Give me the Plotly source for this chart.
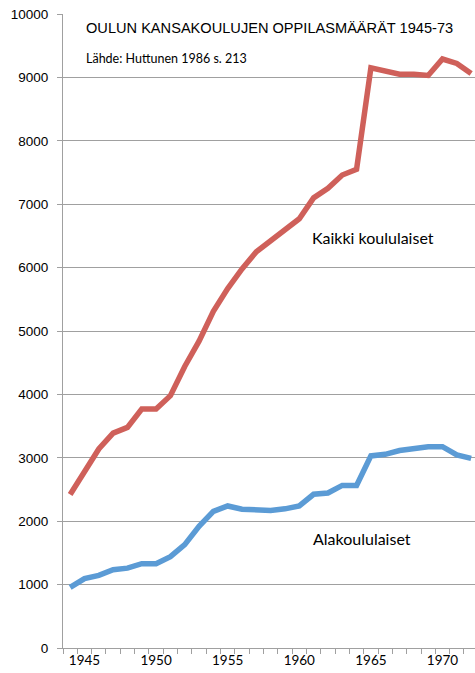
import plotly.graph_objects as go

years = list(range(1944, 1973))
kaikki = [2420, 2790, 3140, 3390, 3480, 3770, 3770, 3980, 4440, 4840, 5310, 5670, 5980,
          6250, 6420, 6600, 6770, 7100, 7250, 7460, 7550, 9150, 9100, 9050, 9050, 9030,
          9290, 9220, 9060]
alakoulu = [955, 1095, 1145, 1235, 1260, 1330, 1330, 1440, 1630, 1920, 2155, 2240, 2190,
            2170, 2170, 2195, 2240, 2425, 2445, 2565, 2565, 3030, 3055, 3115, 3155, 3175,
            3175, 3045, 2990]
x_labels = [1945, 1950, 1955, 1960, 1965, 1970]
y_ticks = list(range(0, 10001, 1000))

title_text = "OULUN KANSAKOULUJEN OPPILASMÄÄRÄT 1945-73"
source_text = "Lähde: Huttunen 1986 s. 213"
label_kaikki = "Kaikki koululaiset"
label_ala = "Alakoululaiset"

RED = "#cf605a"
BLUE = "#5b9bd5"
GRID = "#a0a0a0"

PL, PT, PW, PH = 63, 14, 412, 634  # plot area in pixels

fig = go.Figure()
fig.add_trace(go.Scatter(x=years, y=kaikki, mode="lines",
                         line=dict(color=RED, width=5.5), showlegend=False))
fig.add_trace(go.Scatter(x=years, y=alakoulu, mode="lines",
                         line=dict(color=BLUE, width=5.5), showlegend=False))


def px(xp):
    return (xp - PL) / PW


def py(yp):
    return (PT + PH - yp) / PH


fig.update_layout(
    width=475, height=673,
    margin=dict(l=PL, r=475 - PL - PW, t=PT, b=673 - PT - PH),
    paper_bgcolor="white", plot_bgcolor="white",
    xaxis=dict(
        range=[1943.5, 1972.27],
        tickmode="array", tickvals=x_labels, ticktext=[str(v) for v in x_labels],
        ticks="", showgrid=False, zeroline=False,
        showline=True, linecolor=GRID, linewidth=1,
        tickfont=dict(family="Lato", size=13.5, color="#000"),
        minor=dict(tick0=1943.5, dtick=1, ticks="outside", ticklen=5,
                   tickcolor=GRID, tickwidth=1, showgrid=False),
    ),
    yaxis=dict(
        range=[0, 10000],
        tickmode="array", tickvals=y_ticks, ticktext=[str(v) for v in y_ticks],
        ticks="outside", ticklen=5, tickcolor=GRID, tickwidth=1,
        ticklabelstandoff=6,
        showgrid=True, gridcolor=GRID, gridwidth=1, zeroline=False,
        showline=True, linecolor=GRID, linewidth=1,
        tickfont=dict(family="Liberation Sans", size=13.5, color="#000"),
    ),
    annotations=[
        dict(text=title_text, xref="paper", yref="paper", x=px(84), y=py(28),
             xanchor="left", yanchor="middle", showarrow=False,
             font=dict(family="Liberation Sans", size=14.6, color="#000")),
        dict(text=source_text, xref="paper", yref="paper", x=px(84), y=py(58),
             xanchor="left", yanchor="middle", showarrow=False,
             font=dict(family="Lato", size=12.5, color="#000")),
        dict(text=label_kaikki, xref="paper", yref="paper", x=px(373), y=py(237),
             xanchor="center", yanchor="middle", showarrow=False,
             font=dict(family="Lato", size=16, color="#000")),
        dict(text=label_ala, xref="paper", yref="paper", x=px(362), y=py(538),
             xanchor="center", yanchor="middle", showarrow=False,
             font=dict(family="Lato", size=16, color="#000")),
    ],
)

fig.write_html("out.html", config={"displayModeBar": False},
               post_script="document.body.style.margin='0';document.body.style.overflow='hidden';")
